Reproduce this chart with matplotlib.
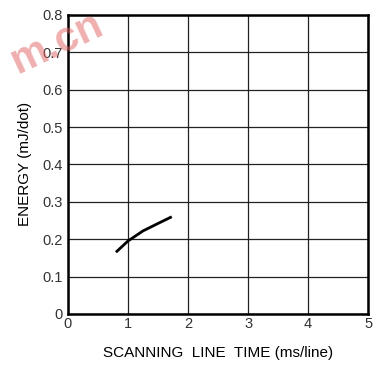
import matplotlib
matplotlib.use('Agg')
import matplotlib.pyplot as plt

# energy vs scanning line time
t = [0.80, 1.00, 1.25, 1.50, 1.73]
energy = [0.165, 0.195, 0.222, 0.242, 0.260]

xticks = [0, 1, 2, 3, 4, 5]
yticks = [0, 0.1, 0.2, 0.3, 0.4, 0.5, 0.6, 0.7, 0.8]
yticklabels = ['0', '0.1', '0.2', '0.3', '0.4', '0.5', '0.6', '0.7', '0.8']

plt.rcParams['font.family'] = ['Liberation Sans', 'DejaVu Sans']

fig = plt.figure(figsize=(3.73, 3.65), dpi=100)
ax = fig.add_axes([0.182, 0.14, 0.805, 0.819])

# watermark (behind the axes)
fig.text(0.01, 0.88, 'm.cn', color='#e06060', alpha=0.5, fontsize=30,
         fontweight='bold', rotation=25, ha='left', va='center', zorder=0)
ax.patch.set_alpha(0)

ax.plot(t, energy, color='black', lw=2.0, solid_capstyle='butt')

ax.set_xlim(0, 5)
ax.set_ylim(0, 0.8)
ax.set_xticks(xticks)
ax.set_yticks(yticks)
ax.set_yticklabels(yticklabels)
ax.grid(True, color='#222222', lw=0.9)
ax.tick_params(length=0, labelsize=10.5, labelcolor='#333333')
ax.tick_params(axis='y', pad=4)
ax.tick_params(axis='x', pad=2)
for s in ax.spines.values():
    s.set_linewidth(1.8)

ax.set_xlabel('SCANNING  LINE  TIME (ms/line)', fontsize=11, labelpad=11)
ax.set_ylabel('ENERGY (mJ/dot)', fontsize=11, labelpad=7)

fig.savefig('out.png', dpi=100)
